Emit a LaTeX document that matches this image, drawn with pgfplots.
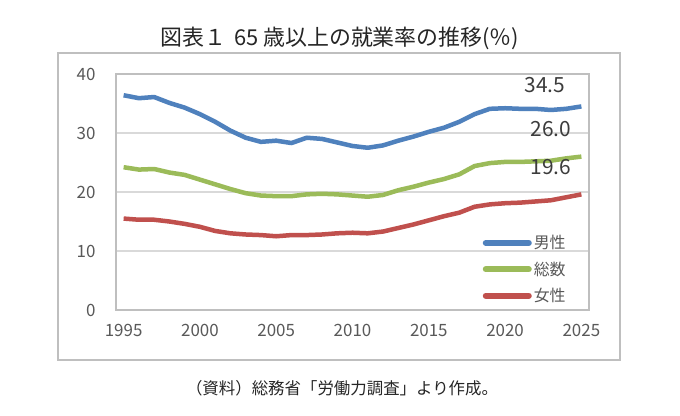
\documentclass[border=0pt]{standalone}
\usepackage{fontspec}
\setmainfont{Noto Sans CJK JP}
\usepackage{pgfplots}
\usepackage{pgfplotstable}
\pgfplotsset{compat=1.18}
\definecolor{cBlue}{HTML}{4F81BD}
\definecolor{cGreen}{HTML}{9BBB59}
\definecolor{cRed}{HTML}{C0504D}
\definecolor{cGrid}{HTML}{D9D9D9}
\definecolor{cFrame}{HTML}{BFBFBF}
\definecolor{cText}{HTML}{595959}
\definecolor{cTitle}{HTML}{262626}

\pgfplotstableread{
year male total female
1995 36.4 24.2 15.5
1996 35.9 23.8 15.3
1997 36.1 23.9 15.3
1998 35.1 23.3 15.0
1999 34.3 22.9 14.6
2000 33.2 22.1 14.1
2001 31.9 21.3 13.4
2002 30.4 20.5 13.0
2003 29.2 19.8 12.8
2004 28.5 19.4 12.7
2005 28.7 19.3 12.5
2006 28.3 19.3 12.7
2007 29.2 19.6 12.7
2008 29.0 19.7 12.8
2009 28.4 19.6 13.0
2010 27.8 19.4 13.1
2011 27.5 19.2 13.0
2012 27.9 19.5 13.3
2013 28.7 20.3 13.9
2014 29.4 20.9 14.5
2015 30.2 21.6 15.2
2016 30.9 22.2 15.9
2017 31.9 23.0 16.5
2018 33.2 24.4 17.5
2019 34.1 24.9 17.9
2020 34.2 25.1 18.1
2021 34.1 25.1 18.2
2022 34.1 25.2 18.4
2023 33.9 25.3 18.6
2024 34.1 25.7 19.1
2025 34.5 26.0 19.6
}\datatable

\begin{document}
\begin{tikzpicture}[x=1bp,y=1bp]
\useasboundingbox (0,0) rectangle (680,-415);
\fill[white] (0,0) rectangle (680,-415);
\draw[cFrame, line width=1.6bp] (58,-53) rectangle (620,-360);
\node[text=cTitle, font=\fontsize{22}{22}\selectfont] at (340,-38) {図表１\hspace{0.35em}65 歳以上の就業率の推移(％)};
\node[text=cTitle, font=\fontsize{16.5}{16.5}\selectfont] at (342,-388) {（資料）総務省「労働力調査」より作成。};
\begin{axis}[
  at={(116bp,-310bp)}, anchor=south west,
  scale only axis, width=473bp, height=236bp,
  xmin=1994.5, xmax=2025.5, ymin=0, ymax=40,
  xtick={1995,2000,...,2025}, ytick={0,10,...,40},
  major tick length=0pt,
  axis line style={cFrame, line width=1.2bp},
  ymajorgrids, grid style={cGrid, line width=1.2bp},
  tick label style={text=cText, font=\fontsize{17}{17}\selectfont},
  /pgf/number format/assume math mode=true,
  /pgf/number format/1000 sep={},
  xticklabel style={yshift=-11bp},
  yticklabel style={xshift=-17bp},
  legend style={draw=none, fill=none, at={(axis description cs:0.775,0.325)}, anchor=north west,
    font=\fontsize{16}{16}\selectfont, text=cText, row sep=7.5bp, inner sep=0pt},
  legend cell align=left,
  legend image code/.code={\draw[#1, line width=6bp, line cap=round] (4bp,0bp) -- (47bp,0bp);},
]
\addplot[cBlue, line width=4.5bp, line join=round] table[x=year, y=male] {\datatable};
\addlegendentry{男性}
\addplot[cGreen, line width=4.5bp, line join=round] table[x=year, y=total] {\datatable};
\addlegendentry{総数}
\addplot[cRed, line width=4.5bp, line join=round] table[x=year, y=female] {\datatable};
\addlegendentry{女性}
\node[text=cTitle!90, font=\fontsize{21}{21}\selectfont] at (axis cs:2022.6,38.1) {34.5};
\node[text=cTitle!90, font=\fontsize{21}{21}\selectfont] at (axis cs:2023.0,30.6) {26.0};
\node[text=cTitle!90, font=\fontsize{21}{21}\selectfont] at (axis cs:2023.0,24.2) {19.6};
\end{axis}
\end{tikzpicture}
\end{document}
